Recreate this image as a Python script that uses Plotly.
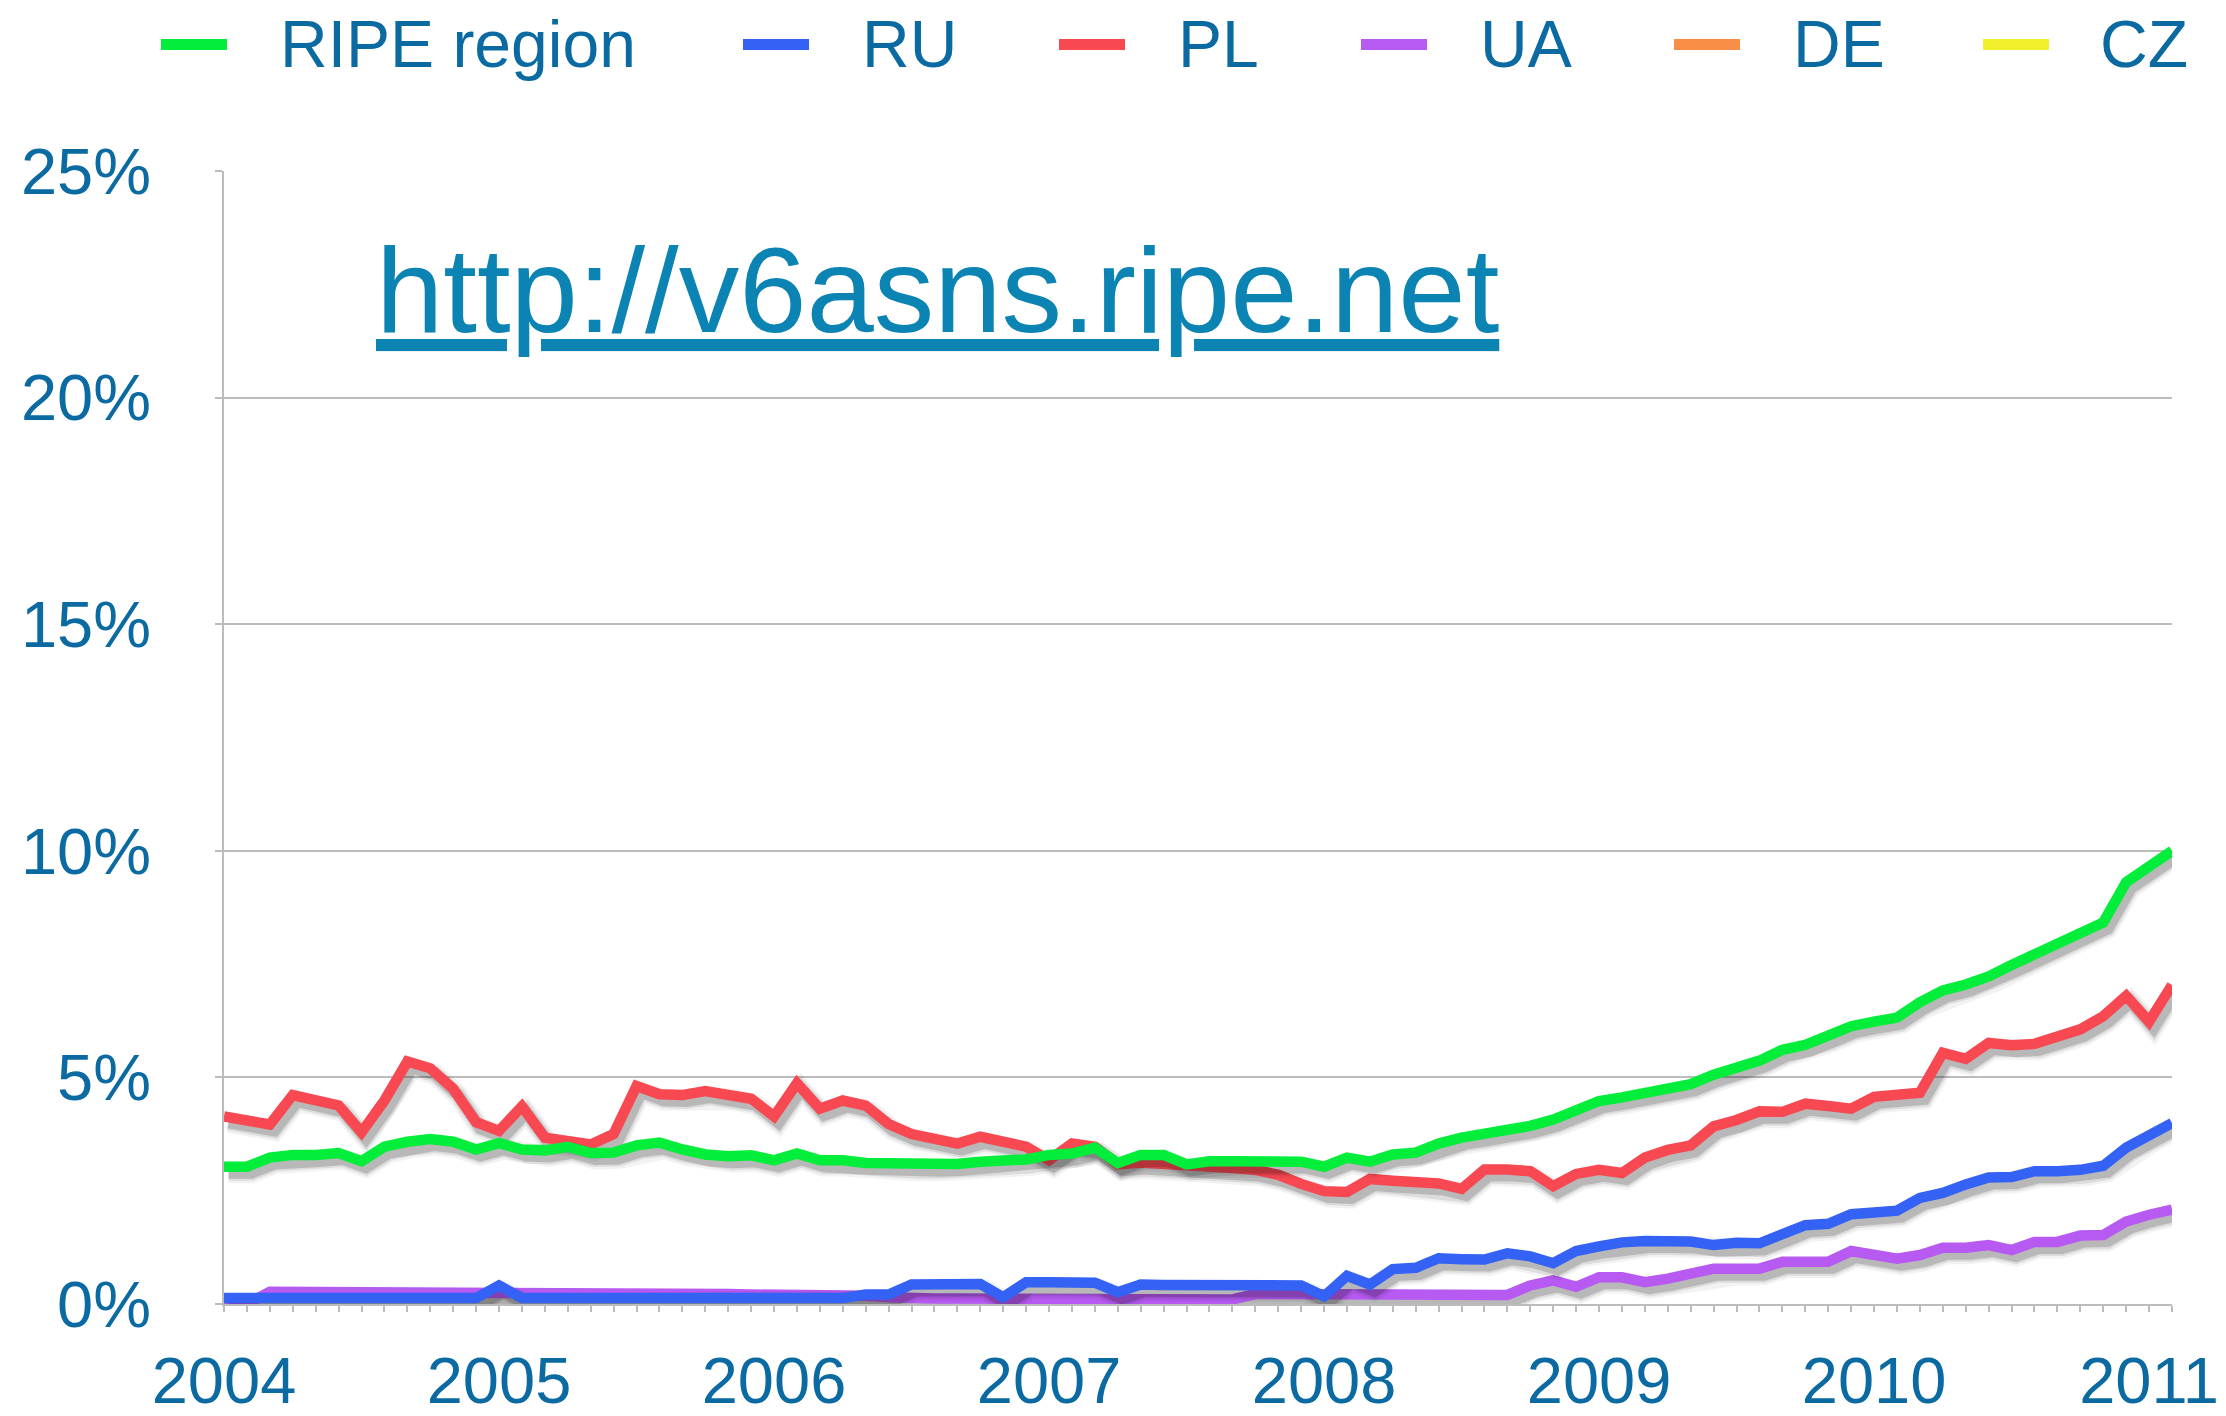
import plotly.graph_objects as go

# ---------------- data (monthly, Jan 2004 .. Feb 2011) ----------------
months = list(range(86))
year_ticks = [0, 12, 24, 36, 48, 60, 72, 84]
year_labels = ["2004", "2005", "2006", "2007", "2008", "2009", "2010", "2011"]
pct_ticks = [0, 5, 10, 15, 20, 25]

ripe = [3.03, 3.03, 3.23, 3.29, 3.29, 3.33, 3.15, 3.47, 3.58, 3.64,
        3.58, 3.41, 3.55, 3.41, 3.39, 3.47, 3.33, 3.34, 3.50, 3.56,
        3.41, 3.30, 3.26, 3.28, 3.17, 3.32, 3.17, 3.17, 3.11, 3.10,
        3.07, 3.07, 3.09, 3.14, 3.17, 3.19, 3.29, 3.32, 3.45, 3.11,
        3.29, 3.29, 3.08, 3.15, 3.15, 3.15, 3.17, 3.14, 3.03, 3.23,
        3.14, 3.30, 3.34, 3.54, 3.67, 3.75, 3.82, 3.93, 4.07, 4.25,
        4.48, 4.56, 4.65, 4.76, 4.85, 5.06, 5.20, 5.37, 5.61, 5.72,
        5.92, 6.13, 6.23, 6.32, 6.66, 6.92, 7.05, 7.23, 7.48, 7.71,
        7.93, 8.21, 8.42, 9.31, 9.63, 10.0]

ru = [0.13, 0.13, 0.13, 0.13, 0.13, 0.13, 0.13, 0.13, 0.13, 0.13,
      0.13, 0.13, 0.41, 0.13, 0.13, 0.13, 0.13, 0.13, 0.13, 0.13,
      0.13, 0.13, 0.13, 0.13, 0.13, 0.13, 0.13, 0.13, 0.21, 0.21,
      0.43, 0.45, 0.45, 0.44, 0.15, 0.48, 0.48, 0.48, 0.47, 0.26,
      0.43, 0.42, 0.42, 0.45, 0.45, 0.43, 0.41, 0.41, 0.17, 0.62,
      0.43, 0.77, 0.80, 1.01, 0.99, 0.98, 1.12, 1.05, 0.90, 1.17,
      1.27, 1.36, 1.39, 1.39, 1.38, 1.30, 1.35, 1.34, 1.53, 1.74,
      1.77, 1.98, 2.02, 2.06, 2.34, 2.45, 2.64, 2.79, 2.80, 2.93,
      2.93, 2.96, 3.05, 3.45, 3.72, 3.99]

pl = [4.14, 4.05, 3.96, 4.61, 4.49, 4.38, 3.79, 4.49, 5.35, 5.20,
      4.75, 4.01, 3.82, 4.36, 3.67, 3.60, 3.52, 3.75, 4.81, 4.63,
      4.61, 4.70, 4.64, 4.53, 4.14, 4.87, 4.31, 4.49, 4.38, 3.97,
      3.75, 3.67, 3.54, 3.69, 3.56, 3.47, 3.17, 3.54, 3.47, 3.08,
      3.12, 3.10, 3.03, 3.03, 3.00, 2.96, 2.85, 2.65, 2.49, 2.47,
      2.76, 2.72, 2.68, 2.66, 2.54, 2.97, 2.97, 2.93, 2.60, 2.87,
      2.96, 2.89, 3.23, 3.40, 3.50, 3.92, 4.06, 4.25, 4.24, 4.42,
      4.37, 4.31, 4.57, 4.64, 4.66, 5.54, 5.41, 5.76, 5.71, 5.74,
      5.90, 6.06, 6.35, 6.80, 6.23, 7.04]

ua = [0.00, 0.00, 0.27, 0.27, 0.27, 0.27, 0.26, 0.26, 0.26, 0.26,
      0.25, 0.25, 0.25, 0.25, 0.24, 0.24, 0.24, 0.23, 0.23, 0.23,
      0.22, 0.22, 0.22, 0.21, 0.21, 0.21, 0.20, 0.20, 0.18, 0.15,
      0.12, 0.12, 0.12, 0.12, 0.12, 0.12, 0.12, 0.12, 0.11, 0.10,
      0.10, 0.10, 0.10, 0.10, 0.10, 0.22, 0.22, 0.21, 0.19, 0.20,
      0.20, 0.20, 0.20, 0.20, 0.20, 0.20, 0.20, 0.41, 0.52, 0.38,
      0.59, 0.59, 0.48, 0.56, 0.67, 0.78, 0.78, 0.78, 0.93, 0.93,
      0.93, 1.17, 1.08, 1.00, 1.08, 1.24, 1.24, 1.30, 1.19, 1.37,
      1.37, 1.51, 1.52, 1.82, 1.97, 2.08]

de = []
cz = []

names = ["RIPE region", "RU", "PL", "UA", "DE", "CZ"]
values = {"RIPE region": ripe, "RU": ru, "PL": pl, "UA": ua, "DE": de, "CZ": cz}
colors = {"RIPE region": "#03ee3a", "RU": "#3462f4", "PL": "#f84852",
          "UA": "#b75af2", "DE": "#f98e48", "CZ": "#f0f02c"}
draw_order = ["CZ", "DE", "UA", "PL", "RU", "RIPE region"]

# ---------------- layout geometry (page pixels) ----------------
OFF = 8                      # default body margin of the html page
W, H = 2226 - OFF, 1416 - OFF
PLOT_L, PLOT_R, PLOT_T, PLOT_B = 224, 2172, 171, 1304   # page pixels
L, T = PLOT_L - OFF, PLOT_T - OFF
R, B = W - (PLOT_R - OFF), H - (PLOT_B - OFF)
PW, PH = W - L - R, H - T - B
TEXT = "#0a6aa1"
URL = "#0b83b3"
GRID = "#bcbcbc"
FONT = "Liberation Sans"

def px_x(px):
    return (px - PLOT_L) / PW

def px_y(py):
    return (PLOT_B - py) / PH

fig = go.Figure()

# shadow offset: ~4.5 px right, ~6 px down
sdx = 4.5 / PW * 85
sdy = 6 / PH * 25

for name in draw_order:
    ys = values[name]
    xs = months[:len(ys)]
    if len(ys):
        for w, a in [(21, 0.05), (16, 0.09), (12, 0.16)]:
            fig.add_trace(go.Scatter(
                x=[x + sdx for x in xs], y=[y - sdy for y in ys], mode="lines",
                line=dict(color=f"rgba(0,0,0,{a})", width=w, shape="linear"),
                hoverinfo="skip", showlegend=False))
    fig.add_trace(go.Scatter(
        x=xs, y=ys, mode="lines", name=name,
        line=dict(color=colors[name], width=10.5, shape="linear"),
        showlegend=False))

# ---------------- manual legend ----------------
sw_x0 = [161, 743, 1059, 1361, 1674, 1983]
txt_x = [282, 864, 1180, 1482, 1795, 2102]
shapes = []
annotations = []
for i, name in enumerate(names):
    shapes.append(dict(type="line", xref="paper", yref="paper",
                       x0=px_x(sw_x0[i]), x1=px_x(sw_x0[i] + 66),
                       y0=px_y(44.5), y1=px_y(44.5),
                       line=dict(color=colors[name], width=11)))
    annotations.append(dict(text=name, xref="paper", yref="paper",
                            x=px_x(txt_x[i] - 4), y=px_y(44),
                            xanchor="left", yanchor="middle", showarrow=False,
                            font=dict(family=FONT, size=66, color=TEXT)))

annotations.append(dict(text="http://v6asns.ripe.net", xref="paper", yref="paper",
                        x=px_x(374), y=px_y(290), xanchor="left", yanchor="middle",
                        showarrow=False,
                        font=dict(family=FONT, size=121, color=URL, lineposition="under")))

fig.update_layout(
    width=W, height=H,
    margin=dict(l=L, r=R, t=T, b=B, autoexpand=False),
    paper_bgcolor="white", plot_bgcolor="white",
    showlegend=False,
    shapes=shapes, annotations=annotations,
    font=dict(family=FONT, color=TEXT),
)
fig.update_xaxes(
    range=[0, 85], tickmode="array", tickvals=months,
    ticktext=[year_labels[year_ticks.index(m)] if m in year_ticks else "" for m in months],
    showgrid=False, zeroline=False,
    showline=True, linecolor=GRID, linewidth=2,
    ticks="outside", ticklen=6, tickwidth=1.5, tickcolor=GRID,
    tickfont=dict(family=FONT, size=65, color=TEXT),
    ticklabelstandoff=13,
)
fig.update_yaxes(
    range=[0, 25], tickmode="array", tickvals=pct_ticks,
    ticktext=[f"{v}%" for v in pct_ticks],
    showgrid=True, gridcolor=GRID, gridwidth=2, zeroline=False,
    showline=True, linecolor=GRID, linewidth=2,
    ticks="outside", ticklen=7, tickwidth=2, tickcolor=GRID,
    tickfont=dict(family=FONT, size=65, color=TEXT),
    ticklabelstandoff=51,
)

fig.write_html("out.html")
